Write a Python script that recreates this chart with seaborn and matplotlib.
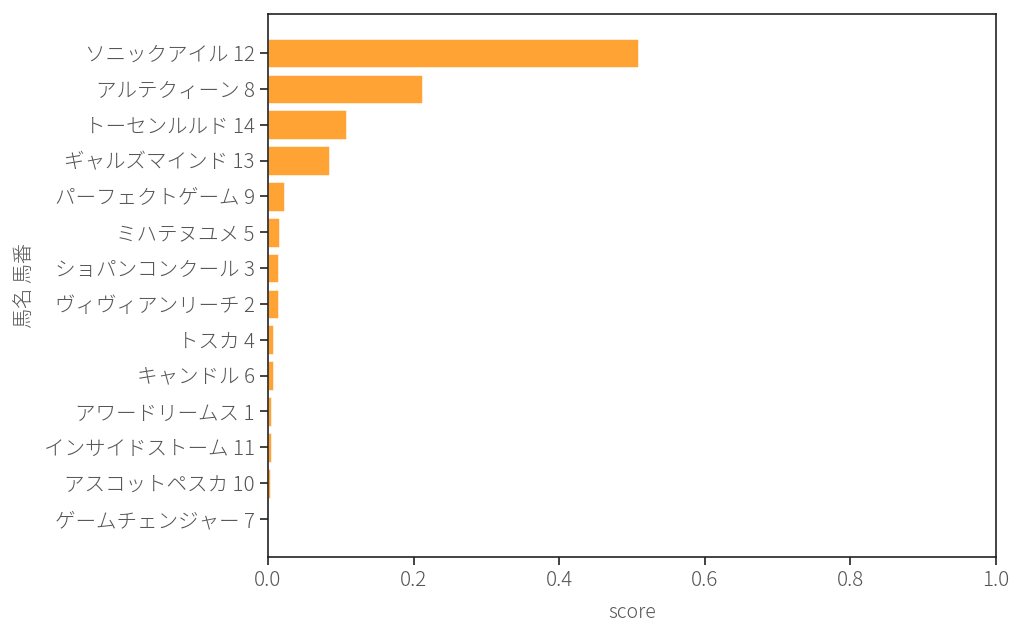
import matplotlib
matplotlib.use("Agg")
import matplotlib.pyplot as plt
import seaborn as sns
import pandas as pd

labels = ["ソニックアイル 12", "アルテクィーン 8", "トーセンルルド 14", "ギャルズマインド 13",
          "パーフェクトゲーム 9", "ミハテヌユメ 5", "ショパンコンクール 3", "ヴィヴィアンリーチ 2",
          "トスカ 4", "キャンドル 6", "アワードリームス 1", "インサイドストーム 11",
          "アスコットペスカ 10", "ゲームチェンジャー 7"]
scores = [0.508, 0.2115, 0.107, 0.084, 0.022, 0.0147, 0.0138, 0.0138,
          0.0068, 0.0062, 0.0037, 0.0037, 0.0024, 0.0003]

sns.set_theme(style="ticks")
plt.rcParams['font.family'] = ['Noto Sans CJK JP', 'DejaVu Sans']
plt.rcParams['font.weight'] = 'light'
text_color = "#555555"

df = pd.DataFrame({"馬名 馬番": labels, "score": scores})

fig = plt.figure(figsize=(10.24, 6.38), dpi=100)
ax = fig.add_axes([268/1024, 1-557/638, (996-268)/1024, (557-14)/638])
sns.barplot(data=df, x="score", y="馬名 馬番", orient="h", color="#ffa334",
            saturation=1, width=0.8, edgecolor="white", linewidth=0.4, ax=ax)
ax.set_xlim(0, 1.0)
ax.set_ylim(13 + 1.06, -1.09)
ax.set_xticks([0, 0.2, 0.4, 0.6, 0.8, 1.0])
ax.set_xticklabels(["0.0", "0.2", "0.4", "0.6", "0.8", "1.0"])
ax.tick_params(axis="both", labelsize=14.8, labelcolor=text_color, length=6, width=1.2, color="#222222")
for t in ax.get_xticklabels() + ax.get_yticklabels():
    t.set_fontweight("light")
ax.set_xlabel("score", fontsize=14, color=text_color, labelpad=8, fontweight="light")
ax.set_ylabel("馬名 馬番", fontsize=14.5, color=text_color, labelpad=6, fontweight="light")
for s in ax.spines.values():
    s.set_color("#222222")
    s.set_linewidth(1.2)
fig.savefig("out.png", dpi=100)
